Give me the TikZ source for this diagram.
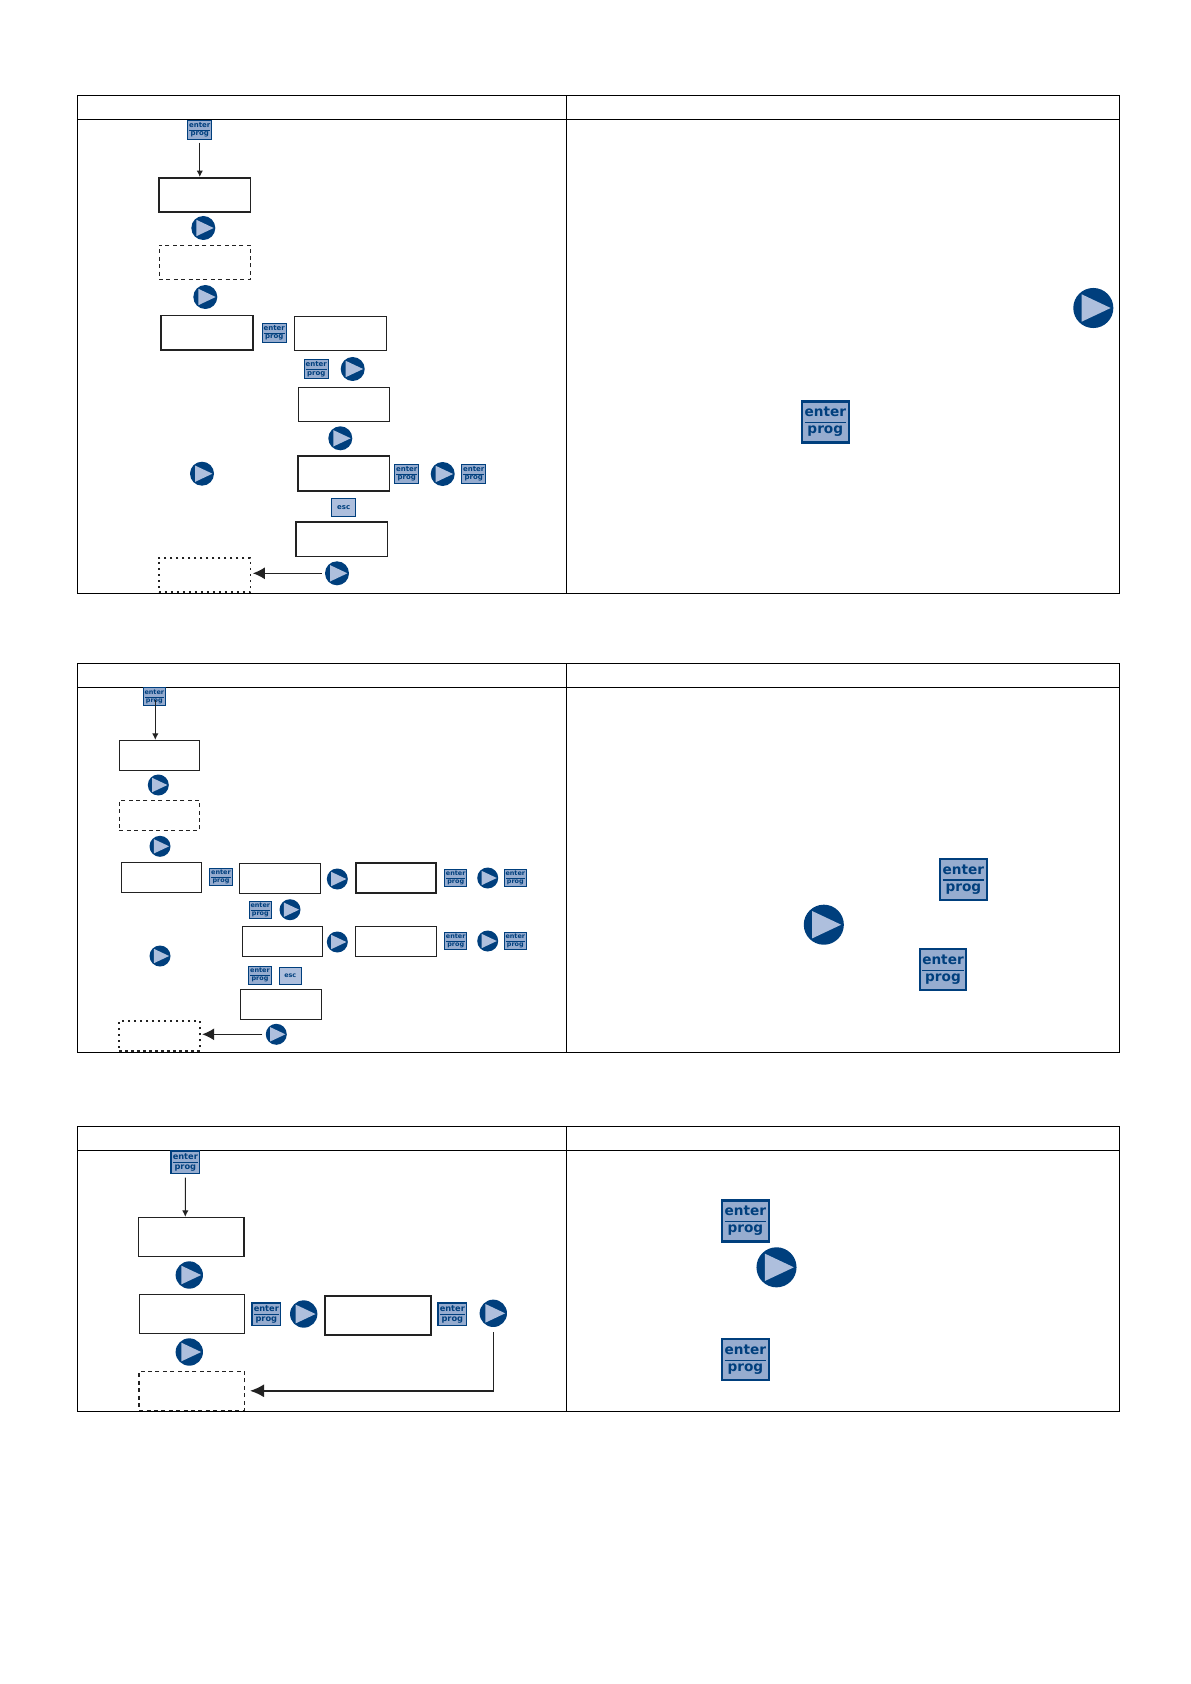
\documentclass[tikz,border=0pt]{standalone}
\usepackage{fontspec}
\setmainfont{DejaVu Sans}
\usepackage{xcolor}
\definecolor{keydark}{HTML}{003f7d}
\definecolor{keymid}{HTML}{96accf}
\definecolor{keylight}{HTML}{aebfdd}
\definecolor{boxline}{HTML}{222222}
\usetikzlibrary{arrows.meta}
\begin{document}
\begin{tikzpicture}[
  x=0.5pt, y=-0.5pt,
  tableline/.style={draw=black, line width=0.5pt},
  disp/.style={rectangle, draw=boxline, fill=white, inner sep=0pt, line width=0.5pt},
  dispthick/.style={disp, line width=0.85pt},
  dispdash/.style={disp, dash pattern=on 2pt off 1.7pt},
  dispdot/.style={disp, line width=0.85pt, dash pattern=on 1.1pt off 1.9pt},
  sizea/.style={minimum width=45.8pt, minimum height=17.2pt},
  sizeb/.style={minimum width=40.2pt, minimum height=15pt},
  sizec/.style={minimum width=52.7pt, minimum height=19.4pt},
  enterkey/.style={rectangle, draw=keydark, fill=keymid, line width=#1*0.55pt,
    minimum width=12pt, minimum height=9.6pt, inner sep=0pt, align=center,
    text=keydark, font=\fontsize{3.5}{4.3}\selectfont\bfseries,
    scale=#1, transform shape},
  enterkey/.default=1,
  enterbig/.style={enterkey=1.95, minimum height=10.5pt},
  esckey/.style={rectangle, draw=keydark, fill=keylight, line width=0.4pt,
    minimum width=12pt, minimum height=9.4pt, inner sep=0pt,
    text=keydark, font=\fontsize{3.5}{4.3}\selectfont\bfseries,
    scale=#1, transform shape},
  esckey/.default=1,
  playkey/.style={circle, fill=keydark, minimum size=12pt, inner sep=0pt,
    scale=#1, transform shape,
    path picture={\fill[keylight] (-3.5pt,4.1pt) -- (-3.5pt,-4.1pt) -- (5.2pt,0pt) -- cycle;}},
  playkey/.default=1,
  flow/.style={draw=boxline, line width=0.5pt, -{Latex[length=3.2pt, width=3.2pt]}},
  back/.style={draw=boxline, line width=0.6pt, -{Latex[length=6pt, width=6pt]}},
  backlong/.style={draw=boxline, line width=0.8pt, -{Latex[length=7pt, width=6.5pt]}}
]
\useasboundingbox (0,0) rectangle (1190,1684);

\draw[tableline] (77.3,95.3) rectangle (1119,593.3) (77.3,119.3) -- (1119,119.3) (566.3,95.3) -- (566.3,593.3);
\draw[tableline] (77.3,663.7) rectangle (1119,1052.3) (77.3,687.3) -- (1119,687.3) (566.3,663.7) -- (566.3,1052.3);
\draw[tableline] (77.3,1126.3) rectangle (1119,1411.3) (77.3,1150.3) -- (1119,1150.3) (566.3,1126.3) -- (566.3,1411.3);

\node[enterkey] (ea1) at (199.8,129.8) {\underline{enter}\\prog};
\node[dispthick, sizea] (ba1) at (204.8,195) {};
\node[playkey] (pa1) at (203.3,228) {};
\node[disp, dispdash, sizea] (ba2) at (204.8,262.3) {};
\node[playkey] (pa2) at (205.3,297) {};
\node[dispthick, sizea] (ba3) at (207,332.8) {};
\node[enterkey] (ea2) at (274.3,332.7) {\underline{enter}\\prog};
\node[disp, sizea] (ba4) at (340.7,333.5) {};
\node[enterkey] (ea3) at (316.3,369) {\underline{enter}\\prog};
\node[playkey] (pa3) at (352.7,369) {};
\node[disp, sizea] (ba5) at (344,404.5) {};
\node[playkey] (pa4) at (340.3,438.3) {};
\node[playkey] (pa5) at (202,473.7) {};
\node[dispthick, sizea] (ba6) at (343.7,473.5) {};
\node[enterkey] (ea4) at (406.7,473.7) {\underline{enter}\\prog};
\node[playkey] (pa6) at (442.7,474) {};
\node[enterkey] (ea5) at (473.7,473.7) {\underline{enter}\\prog};
\node[esckey] (xa1) at (343.7,507.3) {esc};
\node[dispthick, sizea, line width=0.7pt] (ba7) at (341.7,539.3) {};
\node[playkey] (pa7) at (337,573.3) {};
\node[dispdot, sizea] (ba8) at (204.6,574.9) {};
\draw[flow, shorten <=1.3pt] (ea1) -- (ea1 |- ba1.north);
\draw[back, shorten <=1.5pt, shorten >=0.8pt] (pa7) -- (pa7 -| ba8.east);

\node[enterkey=0.92] (eb1) at (154.3,696.7) {\underline{enter}\\prog};
\node[disp, sizeb] (bb1) at (159.5,755.3) {};
\node[playkey=0.875] (pb1) at (158.3,785) {};
\node[disp, dispdash, sizeb] (bb2) at (159.5,815.3) {};
\node[playkey=0.875] (pb2) at (160,846.3) {};
\node[disp, sizeb, line width=0.65pt] (bb3) at (161.5,877.8) {};
\node[enterkey=0.92] (eb2) at (221,877) {\underline{enter}\\prog};
\node[disp, sizeb, line width=0.65pt] (bb4) at (280,878.3) {};
\node[playkey=0.875] (pb3) at (337.3,879) {};
\node[dispthick, sizeb, line width=0.75pt] (bb5) at (396,877.8) {};
\node[enterkey=0.92] (eb3) at (455.7,878) {\underline{enter}\\prog};
\node[playkey=0.875] (pb4) at (487.7,878) {};
\node[enterkey=0.92] (eb4) at (515.3,878) {\underline{enter}\\prog};
\node[enterkey=0.92] (eb5) at (260.3,910) {\underline{enter}\\prog};
\node[playkey=0.875] (pb5) at (290,909.7) {};
\node[disp, sizeb] (bb6) at (282.5,941.3) {};
\node[playkey=0.875] (pb6) at (337.3,942) {};
\node[disp, sizeb] (bb7) at (396,941.3) {};
\node[enterkey=0.92] (eb6) at (455.7,941) {\underline{enter}\\prog};
\node[playkey=0.875] (pb7) at (487.7,941) {};
\node[enterkey=0.92] (eb7) at (515.3,941) {\underline{enter}\\prog};
\node[playkey=0.875] (pb8) at (160,956) {};
\node[enterkey=0.92] (eb8) at (260,975.3) {\underline{enter}\\prog};
\node[esckey=0.92] (xb1) at (290.3,976) {esc};
\node[disp, sizeb, line width=0.65pt] (bb8) at (281,1004.3) {};
\node[playkey=0.875] (pb9) at (276.3,1034.3) {};
\node[dispdot, sizeb] (bb9) at (159.5,1036) {};
\draw[flow, shorten <=1.4pt] ([xshift=0.5pt]eb1.center) -- ([xshift=0.5pt]eb1.center |- bb1.north);
\draw[back, shorten <=1.5pt, shorten >=0.8pt] (pb9) -- (pb9 -| bb9.east);

\node[enterkey=1.18] (ec1) at (185.3,1162.3) {\underline{enter}\\prog};
\node[dispthick, sizec, line width=0.8pt] (bc1) at (191,1237) {};
\node[playkey=1.14] (pc1) at (189.3,1275) {};
\node[disp, sizec, line width=0.7pt] (bc2) at (192,1313.8) {};
\node[enterkey=1.18] (ec2) at (266.3,1314.3) {\underline{enter}\\prog};
\node[playkey=1.14] (pc2) at (303.7,1314) {};
\node[dispthick, sizec] (bc3) at (378,1315.5) {};
\node[enterkey=1.18] (ec3) at (452.3,1314.3) {\underline{enter}\\prog};
\node[playkey=1.14] (pc3) at (493.3,1313.3) {};
\node[playkey=1.14] (pc4) at (189.3,1352) {};
\node[disp, dispdash, sizec, line width=0.7pt] (bc4) at (191.8,1390.8) {};
\draw[flow, shorten <=1.6pt] (ec1) -- (ec1 |- bc1.north);
\draw[backlong, shorten <=2.5pt, shorten >=2.4pt] (pc3) |- (bc4.east);

\node[playkey=1.67] (pr1) at (1093.3,308) {};
\node[enterbig] (er1) at (825.3,422) {\underline{enter}\\prog};
\node[enterbig] (er2) at (963.4,879.6) {\underline{enter}\\prog};
\node[playkey=1.67] (pr2) at (823.8,924.7) {};
\node[enterbig] (er3) at (943,969.8) {\underline{enter}\\prog};
\node[enterbig] (er4) at (745.4,1221) {\underline{enter}\\prog};
\node[playkey=1.67] (pr3) at (776.5,1267.3) {};
\node[enterbig] (er5) at (745.4,1359.7) {\underline{enter}\\prog};
\end{tikzpicture}
\end{document}
